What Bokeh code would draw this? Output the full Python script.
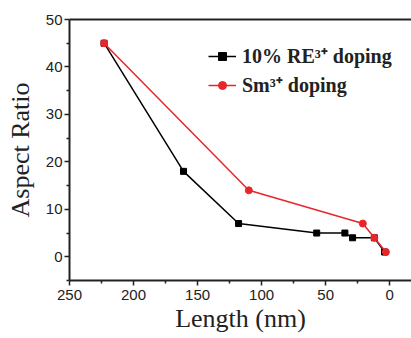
from bokeh.plotting import figure
from bokeh.models import Range1d, Legend, LegendItem, FixedTicker, LinearAxis
from bokeh.embed import file_html
from bokeh.resources import INLINE

# Data
re_length = [223, 161, 118, 57, 35, 29, 12, 4]
re_ratio = [45, 18, 7, 5, 5, 4, 4, 1]
sm_length = [223, 110, 21, 12, 3]
sm_ratio = [45, 14, 7, 4, 1]
x_ticks = [250, 200, 150, 100, 50, 0]
y_ticks = [0, 10, 20, 30, 40, 50]
labels = ["10% RE³⁺ doping", "Sm³⁺ doping"]

p = figure(width=411, height=338, output_backend="svg", toolbar_location=None,
           x_range=Range1d(250, -17), y_range=Range1d(-5, 50),
           min_border_left=69, min_border_top=19, min_border_right=0, min_border_bottom=58)
p.grid.visible = False
p.background_fill_color = "white"
p.outline_line_color = None

red = "#e8262a"
r1 = p.line(re_length, re_ratio, line_color="black", line_width=1.5)
s1 = p.scatter(re_length, re_ratio, marker="square", size=6, fill_color="black", line_color="black")
r2 = p.line(sm_length, sm_ratio, line_color=red, line_width=1.5)
s2 = p.scatter(sm_length, sm_ratio, marker="circle", size=7, fill_color=red, line_color=red)

xa = p.below[0]
ya = p.left[0]
for ax in (xa, ya):
    ax.axis_line_width = 2
    ax.axis_line_color = "#222222"
    ax.major_tick_line_color = "#222222"
    ax.minor_tick_line_color = "#222222"
    ax.major_tick_line_width = 1.5
    ax.minor_tick_line_width = 1.5
    ax.major_tick_out = 5
    ax.major_tick_in = 0
    ax.minor_tick_out = 3
    ax.minor_tick_in = 0
    ax.major_label_text_font = "Liberation Sans"
    ax.major_label_text_font_size = "15px"
    ax.major_label_text_color = "#222222"
    ax.axis_label_text_font = "Liberation Serif"
    ax.axis_label_text_font_style = "normal"
    ax.axis_label_text_font_size = "26px"
    ax.axis_label_text_color = "#222222"

xa.ticker = FixedTicker(ticks=x_ticks, minor_ticks=[225, 175, 125, 75, 25, -25])
ya.ticker = FixedTicker(ticks=y_ticks, minor_ticks=[-5, 5, 15, 25, 35, 45])
xa.axis_label = "Length (nm)"
ya.axis_label = "Aspect Ratio"
xa.major_label_standoff = 4
ya.major_label_standoff = 2
xa.axis_label_standoff = 1
ya.axis_label_standoff = 8

# plain frame line along the top (no ticks, no labels)
top_axis = LinearAxis(ticker=FixedTicker(ticks=[]), major_tick_line_color=None,
                      minor_tick_line_color=None, major_label_text_font_size="0px",
                      axis_line_width=2, axis_line_color="#222222", major_label_standoff=0)
p.add_layout(top_axis, "above")

legend = Legend(items=[LegendItem(label=labels[0], renderers=[r1, s1]),
                       LegendItem(label=labels[1], renderers=[r2, s2])],
                location=(139, 182), background_fill_alpha=0, border_line_color=None,
                padding=0, margin=0, spacing=2, glyph_width=28, glyph_height=20,
                label_standoff=6, label_height=26)
legend.label_text_font = "Liberation Serif"
legend.label_text_font_style = "bold"
legend.label_text_font_size = "20px"
legend.label_text_color = "#222222"
p.add_layout(legend, "center")

open("out.html", "w").write(file_html(p, INLINE))
